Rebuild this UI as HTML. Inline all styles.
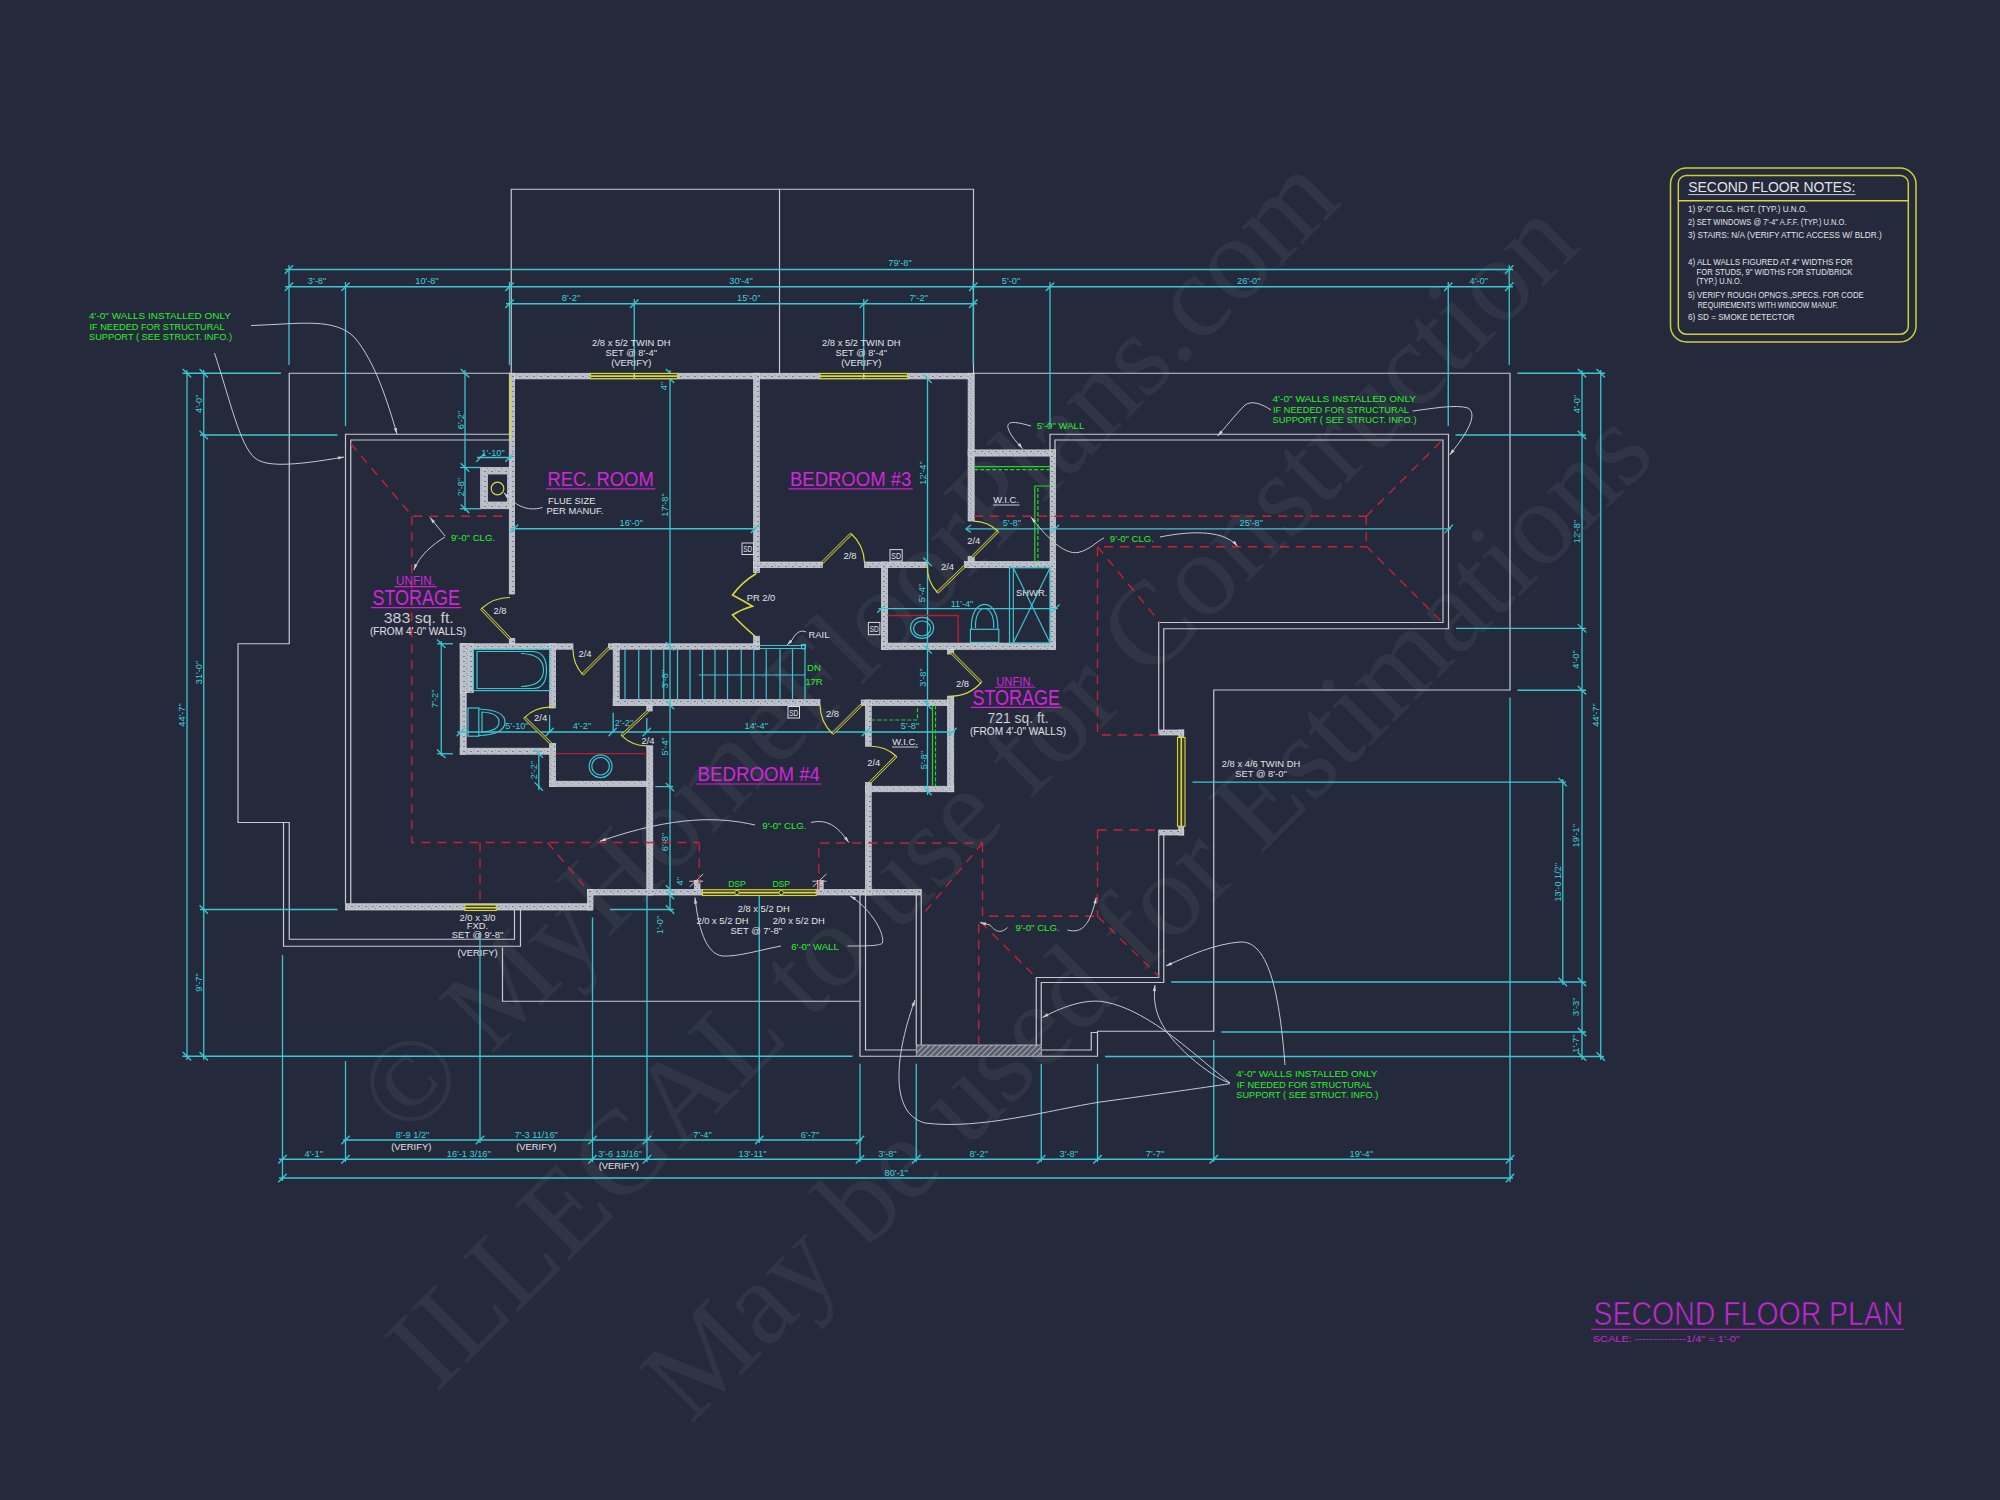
<!DOCTYPE html>
<html><head><meta charset="utf-8"><title>Second Floor Plan</title>
<style>
html,body{margin:0;padding:0;background:#24293b;}
svg{display:block;}
.w{stroke:#c6c9d1;stroke-width:1.2;fill:none;}
.wl{stroke:#c6c9d1;stroke-width:1;fill:none;}
.c{stroke:#3cc6d3;stroke-width:1.3;fill:none;}
.cf{stroke:#3cc6d3;stroke-width:1.2;fill:none;}
.r{stroke:#cc2233;stroke-width:1.3;fill:none;stroke-dasharray:9 7;}
.rs{stroke:#b81e30;stroke-width:1.4;fill:none;}
.y{stroke:#d6d640;stroke-width:1.6;fill:none;}
.yw{stroke:#d6d640;stroke-width:1.2;fill:#8c8c3a;}
.g{stroke:#2bd12b;stroke-width:1.2;fill:none;}
.gd{stroke:#2bd12b;stroke-width:1.2;fill:none;stroke-dasharray:4 2;}
.m{stroke:#cc22d4;stroke-width:1.15;fill:none;}
.wall{fill:url(#speck);stroke:#d4d6dc;stroke-width:0.7;}
.wallh{fill:url(#hatch);stroke:#c6c9d1;stroke-width:0.8;}
.sd{fill:none;stroke:#d8dae0;stroke-width:1;}
text{font-family:"Liberation Sans",sans-serif;}
.tw{fill:#e2e3e8;font-size:9.4px;}
.tc{fill:#3fd0dc;font-size:9.2px;}
.tg{fill:#2cf02c;font-size:9.6px;}
.tm{fill:#d424de;font-size:20px;}
.tmt{fill:#c628d6;}
.tmb{fill:#c628d6;stroke:#24293b;stroke-width:0.7;}
.wm{fill:#ffffff;fill-opacity:0.058;font-family:"Liberation Serif",serif;}
</style></head>
<body>
<svg width="2000" height="1500" viewBox="0 0 2000 1500">
<defs>
<pattern id="speck" width="7" height="5" patternUnits="userSpaceOnUse">
<rect width="7" height="5" fill="#bcc0c8"/><rect x="1" y="1" width="2" height="1" fill="#7a7e88"/><rect x="4" y="3" width="1" height="1" fill="#858994"/><rect x="5" y="0" width="1" height="1" fill="#9a9ea8"/>
</pattern>
<pattern id="hatch" width="4" height="4" patternUnits="userSpaceOnUse" patternTransform="rotate(45)">
<rect width="4" height="4" fill="#5a5e6a"/><line x1="0" y1="0" x2="0" y2="4" stroke="#c6c9d1" stroke-width="1.4"/>
</pattern>
</defs>
<rect x="0" y="0" width="2000" height="1500" fill="#24293b"/>
<g><text class="wm" x="0" y="0" font-size="119" transform="translate(405.9 1140.7) rotate(-45)">© MyHomeFloorPlans.com</text>
<text class="wm" x="0" y="0" font-size="119" transform="translate(435.95 1394.05) rotate(-45)">ILLEGAL to use for Construction</text>
<text class="wm" x="0" y="0" font-size="119" transform="translate(690.45 1425.55) rotate(-45)">May be used for Estimations</text></g>
<polyline class="w" points="511.25,373.25 511.25,189.25 973.5,189.25 973.5,373.25"/>
<line class="w" x1="779.5" y1="189.25" x2="779.5" y2="373.25"/>
<polyline class="w" points="510,373.25 289.25,373.25 289.25,643.75 238,643.75 238,822.5 289.25,822.5 289.25,939.25 514.5,939.25 514.5,910"/>
<polyline class="w" points="283.5,822.5 283.5,946.25 520.5,946.25 520.5,910"/>
<polyline class="w" points="509.25,434.25 345.5,434.25 345.5,903.75"/>
<polyline class="w" points="509.25,440 350.75,440 350.75,903.75"/>
<polyline class="w" points="502.5,947.5 502.5,1001.25 860,1001.25"/>
<polyline class="w" points="860,895 860,1056.25 916.25,1056.25"/>
<polyline class="w" points="865.5,895 865.5,1050 916.25,1050"/>
<line class="w" x1="916.25" y1="895" x2="916.25" y2="1045"/>
<line class="w" x1="921.25" y1="895" x2="921.25" y2="1045"/>
<polyline class="w" points="1036.25,1045 1036.25,977.5 1158.75,977.5 1158.75,835"/>
<polyline class="w" points="1041.25,1045 1041.25,982.5 1163.75,982.5 1163.75,835"/>
<polyline class="w" points="1041.25,1050 1091.25,1050 1091.25,1032.5 1097.5,1032.5"/>
<polyline class="w" points="1041.25,1056.25 1097.5,1056.25 1097.5,1031.25 1213.75,1031.25 1213.75,690 1510,690 1510,373.25 973.75,373.25"/>
<polyline class="w" points="1158.75,730 1158.75,622.5 1443,622.5 1443,440 1055,440 1055,450"/>
<polyline class="w" points="1163.75,730 1163.75,628.75 1448.5,628.75 1448.5,434.25 1050,434.25 1050,450"/>
<rect class="wall" x="509.5" y="373.25" width="464.25" height="5.65"/>
<rect class="wall" x="509.25" y="373.25" width="5.35" height="220.75"/>
<rect class="wall" x="509.25" y="638.4" width="5.55" height="10.85"/>
<rect class="wall" x="753.6" y="373.25" width="5.8" height="199.25"/>
<rect class="wall" x="753.6" y="636.2" width="5.8" height="13.05"/>
<rect class="wall" x="968.1" y="373.25" width="6.1" height="147.75"/>
<rect class="wall" x="968.1" y="556.5" width="6.1" height="11.2"/>
<rect class="wall" x="968.1" y="449.9" width="87.4" height="6.2"/>
<rect class="wall" x="1050.1" y="449.9" width="5.4" height="199.4"/>
<rect class="wall" x="753.6" y="562" width="68.9" height="5.6"/>
<rect class="wall" x="864.5" y="562" width="63" height="5.6"/>
<rect class="wall" x="964.3" y="561.6" width="91.2" height="6.1"/>
<rect class="wall" x="881.5" y="562" width="6.1" height="87.3"/>
<rect class="wall" x="881.5" y="643.1" width="174" height="6.2"/>
<rect class="wall" x="460.2" y="643.8" width="112.8" height="5.4"/>
<rect class="wall" x="608.4" y="643.8" width="151" height="5.4"/>
<rect class="wall" x="460.2" y="643.8" width="6" height="110.4"/>
<rect class="wall" x="460.2" y="643.8" width="13.2" height="48.6"/>
<rect class="wall" x="460.2" y="748.2" width="95.4" height="6"/>
<rect class="wall" x="549.6" y="643.8" width="6" height="64.2"/>
<rect class="wall" x="549.6" y="743.4" width="6" height="43.2"/>
<rect class="wall" x="549.6" y="781.2" width="103.2" height="5.4"/>
<rect class="wall" x="613.2" y="643.8" width="6" height="61.8"/>
<rect class="wall" x="613.2" y="699.6" width="206.8" height="6"/>
<rect class="wall" x="646.8" y="705.6" width="5.4" height="5.4"/>
<rect class="wall" x="646.8" y="745.8" width="6" height="149.2"/>
<rect class="wall" x="587.5" y="889.5" width="115" height="5.5"/>
<rect class="wall" x="816.25" y="889.5" width="105" height="5.5"/>
<rect class="wall" x="345.5" y="903.75" width="247" height="6.25"/>
<rect class="wall" x="587.5" y="889.5" width="5.5" height="20.5"/>
<rect class="wall" x="861.25" y="700" width="92.5" height="5.5"/>
<rect class="wall" x="865.5" y="700" width="5.75" height="46.25"/>
<rect class="wall" x="865.5" y="782.5" width="5.75" height="112.5"/>
<rect class="wall" x="947.6" y="696.2" width="6.15" height="95.55"/>
<rect class="wall" x="865.5" y="786.25" width="88.25" height="5.5"/>
<rect class="wall" x="947.6" y="649.3" width="6.15" height="4.7"/>
<rect class="wall" x="1158.75" y="730" width="25" height="5"/>
<rect class="wall" x="1178.75" y="730" width="5" height="105"/>
<rect class="wall" x="1158.75" y="830" width="25" height="5"/>
<rect class="wall" x="480.5" y="467.5" width="29.5" height="41.25"/>
<rect x="487.5" y="474" width="20" height="28" fill="#24293b" stroke="#c6c9d1" stroke-width="0.8"/>
<circle cx="497.5" cy="488.5" r="6.3" fill="none" stroke="#d6d640" stroke-width="1.2"/>
<rect class="wall" x="694.4" y="880.4" width="5.6" height="9.1"/>
<line class="wl" x1="689.2" y1="881.2" x2="703.2" y2="881.2"/>
<line class="wl" x1="689.7" y1="886.8" x2="703.2" y2="874"/>
<rect class="wall" x="817.6" y="880.4" width="5.6" height="9.1"/>
<line class="wl" x1="812.4" y1="881.2" x2="826.4" y2="881.2"/>
<line class="wl" x1="812.9" y1="886.8" x2="826.4" y2="874"/>
<rect class="wallh" x="916.25" y="1045" width="125" height="11.25"/>
<line class="c" x1="285" y1="269.5" x2="1513" y2="269.5"/>
<line class="c" x1="284.8" y1="273.7" x2="293.2" y2="265.3"/>
<line class="c" x1="1505.05" y1="273.7" x2="1513.45" y2="265.3"/>
<line class="c" x1="285" y1="286.75" x2="1513" y2="286.75"/>
<line class="c" x1="284.8" y1="290.95" x2="293.2" y2="282.55"/>
<line class="c" x1="341.3" y1="290.95" x2="349.7" y2="282.55"/>
<line class="c" x1="505.3" y1="290.95" x2="513.7" y2="282.55"/>
<line class="c" x1="969.05" y1="290.95" x2="977.45" y2="282.55"/>
<line class="c" x1="1045.8" y1="290.95" x2="1054.2" y2="282.55"/>
<line class="c" x1="1444.05" y1="290.95" x2="1452.45" y2="282.55"/>
<line class="c" x1="1505.05" y1="290.95" x2="1513.45" y2="282.55"/>
<line class="c" x1="506" y1="303.75" x2="977" y2="303.75"/>
<line class="c" x1="505.3" y1="307.95" x2="513.7" y2="299.55"/>
<line class="c" x1="630.05" y1="307.95" x2="638.45" y2="299.55"/>
<line class="c" x1="859.55" y1="307.95" x2="867.95" y2="299.55"/>
<line class="c" x1="969.05" y1="307.95" x2="977.45" y2="299.55"/>
<line class="c" x1="289" y1="265" x2="289" y2="365"/>
<line class="c" x1="345.5" y1="282" x2="345.5" y2="426"/>
<line class="c" x1="509.5" y1="282" x2="509.5" y2="365"/>
<line class="c" x1="634.25" y1="299" x2="634.25" y2="370"/>
<line class="c" x1="863.75" y1="299" x2="863.75" y2="370"/>
<line class="c" x1="973.25" y1="282" x2="973.25" y2="365"/>
<line class="c" x1="1050" y1="282" x2="1050" y2="427.5"/>
<line class="c" x1="1448.25" y1="282" x2="1448.25" y2="426"/>
<line class="c" x1="1509.25" y1="265" x2="1509.25" y2="365"/>
<line class="c" x1="187" y1="370" x2="187" y2="1060"/>
<line class="c" x1="182.8" y1="369.05" x2="191.2" y2="377.45"/>
<line class="c" x1="182.8" y1="1052.05" x2="191.2" y2="1060.45"/>
<line class="c" x1="203.75" y1="370" x2="203.75" y2="1060"/>
<line class="c" x1="199.55" y1="369.05" x2="207.95" y2="377.45"/>
<line class="c" x1="199.55" y1="430.8" x2="207.95" y2="439.2"/>
<line class="c" x1="199.55" y1="905.3" x2="207.95" y2="913.7"/>
<line class="c" x1="199.55" y1="1052.05" x2="207.95" y2="1060.45"/>
<line class="c" x1="182.5" y1="373.25" x2="281" y2="373.25"/>
<line class="c" x1="200" y1="435" x2="337.5" y2="435"/>
<line class="c" x1="200" y1="909.5" x2="337.5" y2="909.5"/>
<line class="c" x1="182.5" y1="1056.25" x2="852.5" y2="1056.25"/>
<line class="c" x1="1582" y1="370" x2="1582" y2="1060"/>
<line class="c" x1="1577.8" y1="369.05" x2="1586.2" y2="377.45"/>
<line class="c" x1="1577.8" y1="430.8" x2="1586.2" y2="439.2"/>
<line class="c" x1="1577.8" y1="624.1" x2="1586.2" y2="632.5"/>
<line class="c" x1="1577.8" y1="686.05" x2="1586.2" y2="694.45"/>
<line class="c" x1="1577.8" y1="977.8" x2="1586.2" y2="986.2"/>
<line class="c" x1="1577.8" y1="1027.8" x2="1586.2" y2="1036.2"/>
<line class="c" x1="1577.8" y1="1052.3" x2="1586.2" y2="1060.7"/>
<line class="c" x1="1600.75" y1="370" x2="1600.75" y2="1060"/>
<line class="c" x1="1596.55" y1="369.05" x2="1604.95" y2="377.45"/>
<line class="c" x1="1596.55" y1="1052.3" x2="1604.95" y2="1060.7"/>
<line class="c" x1="1562.8" y1="779" x2="1562.8" y2="985"/>
<line class="c" x1="1558.6" y1="778" x2="1567" y2="786.4"/>
<line class="c" x1="1558.6" y1="977.8" x2="1567" y2="986.2"/>
<line class="c" x1="1517.5" y1="373.25" x2="1605" y2="373.25"/>
<line class="c" x1="1455.5" y1="435" x2="1586" y2="435"/>
<line class="c" x1="1456" y1="628.3" x2="1586" y2="628.3"/>
<line class="c" x1="1517.5" y1="690.25" x2="1586" y2="690.25"/>
<line class="c" x1="1192.5" y1="782.2" x2="1566" y2="782.2"/>
<line class="c" x1="1171.25" y1="982" x2="1586" y2="982"/>
<line class="c" x1="1221.25" y1="1032" x2="1586" y2="1032"/>
<line class="c" x1="1105" y1="1056.5" x2="1604" y2="1056.5"/>
<line class="c" x1="343" y1="1140" x2="862" y2="1140"/>
<line class="c" x1="341.3" y1="1144.2" x2="349.7" y2="1135.8"/>
<line class="c" x1="475.8" y1="1144.2" x2="484.2" y2="1135.8"/>
<line class="c" x1="588.3" y1="1144.2" x2="596.7" y2="1135.8"/>
<line class="c" x1="642.8" y1="1144.2" x2="651.2" y2="1135.8"/>
<line class="c" x1="755.05" y1="1144.2" x2="763.45" y2="1135.8"/>
<line class="c" x1="855.8" y1="1144.2" x2="864.2" y2="1135.8"/>
<line class="c" x1="279" y1="1159.25" x2="1513" y2="1159.25"/>
<line class="c" x1="278.3" y1="1163.45" x2="286.7" y2="1155.05"/>
<line class="c" x1="341.3" y1="1163.45" x2="349.7" y2="1155.05"/>
<line class="c" x1="588.3" y1="1163.45" x2="596.7" y2="1155.05"/>
<line class="c" x1="642.8" y1="1163.45" x2="651.2" y2="1155.05"/>
<line class="c" x1="855.8" y1="1163.45" x2="864.2" y2="1155.05"/>
<line class="c" x1="912.05" y1="1163.45" x2="920.45" y2="1155.05"/>
<line class="c" x1="1037.05" y1="1163.45" x2="1045.45" y2="1155.05"/>
<line class="c" x1="1093.3" y1="1163.45" x2="1101.7" y2="1155.05"/>
<line class="c" x1="1209.55" y1="1163.45" x2="1217.95" y2="1155.05"/>
<line class="c" x1="1505.8" y1="1163.45" x2="1514.2" y2="1155.05"/>
<line class="c" x1="279" y1="1178" x2="1513" y2="1178"/>
<line class="c" x1="278.3" y1="1182.2" x2="286.7" y2="1173.8"/>
<line class="c" x1="1505.8" y1="1182.2" x2="1514.2" y2="1173.8"/>
<line class="c" x1="282.5" y1="955" x2="282.5" y2="1181"/>
<line class="c" x1="345.5" y1="1061.25" x2="345.5" y2="1162"/>
<line class="c" x1="480" y1="932.5" x2="480" y2="1143"/>
<line class="c" x1="592.5" y1="917.5" x2="592.5" y2="1162"/>
<line class="c" x1="647" y1="895" x2="647" y2="1162"/>
<line class="c" x1="759.25" y1="895" x2="759.25" y2="1143"/>
<line class="c" x1="860" y1="1063.75" x2="860" y2="1162"/>
<line class="c" x1="916.25" y1="1063.75" x2="916.25" y2="1162"/>
<line class="c" x1="1041.25" y1="1063.75" x2="1041.25" y2="1162"/>
<line class="c" x1="1097.5" y1="1063.75" x2="1097.5" y2="1162"/>
<line class="c" x1="1213.75" y1="1040" x2="1213.75" y2="1162"/>
<line class="c" x1="1510" y1="697.5" x2="1510" y2="1182"/>
<line class="c" x1="465" y1="370" x2="465" y2="511"/>
<line class="c" x1="460.8" y1="369.05" x2="469.2" y2="377.45"/>
<line class="c" x1="460.8" y1="463.3" x2="469.2" y2="471.7"/>
<line class="c" x1="460.8" y1="504.55" x2="469.2" y2="512.95"/>
<line class="c" x1="460" y1="467.5" x2="481" y2="467.5"/>
<line class="c" x1="460" y1="508.75" x2="481" y2="508.75"/>
<line class="c" x1="477" y1="457.5" x2="512" y2="457.5"/>
<line class="c" x1="476.3" y1="461.7" x2="484.7" y2="453.3"/>
<line class="c" x1="505.3" y1="461.7" x2="513.7" y2="453.3"/>
<line class="c" x1="670" y1="370" x2="670" y2="911.25"/>
<line class="c" x1="665.8" y1="369.05" x2="674.2" y2="377.45"/>
<line class="c" x1="665.8" y1="374.55" x2="674.2" y2="382.95"/>
<line class="c" x1="665.8" y1="642.05" x2="674.2" y2="650.45"/>
<line class="c" x1="665.8" y1="700.8" x2="674.2" y2="709.2"/>
<line class="c" x1="665.8" y1="783" x2="674.2" y2="791.4"/>
<line class="c" x1="665.8" y1="885.3" x2="674.2" y2="893.7"/>
<line class="c" x1="665.8" y1="890.8" x2="674.2" y2="899.2"/>
<line class="c" x1="665.8" y1="905.3" x2="674.2" y2="913.7"/>
<line class="c" x1="610" y1="909.5" x2="673.75" y2="909.5"/>
<line class="c" x1="510" y1="528.75" x2="756" y2="528.75"/>
<line class="c" x1="509.8" y1="532.95" x2="518.2" y2="524.55"/>
<line class="c" x1="750.8" y1="532.95" x2="759.2" y2="524.55"/>
<line class="c" x1="965.8" y1="528.9" x2="1451" y2="528.9"/>
<line class="c" x1="1050.8" y1="533.1" x2="1059.2" y2="524.7"/>
<line class="c" x1="1444.55" y1="533.1" x2="1452.95" y2="524.7"/>
<line class="c" x1="965.8" y1="528.9" x2="971" y2="525"/>
<line class="c" x1="965.8" y1="528.9" x2="971" y2="532.5"/>
<line class="c" x1="927.5" y1="377.5" x2="927.5" y2="795"/>
<line class="c" x1="923.3" y1="374.55" x2="931.7" y2="382.95"/>
<line class="c" x1="923.3" y1="557.8" x2="931.7" y2="566.2"/>
<line class="c" x1="923.3" y1="645.1" x2="931.7" y2="653.5"/>
<line class="c" x1="923.3" y1="700.8" x2="931.7" y2="709.2"/>
<line class="c" x1="923.3" y1="786.8" x2="931.7" y2="795.2"/>
<line class="c" x1="878.4" y1="608.6" x2="1057.8" y2="608.6"/>
<line class="c" x1="877.3" y1="612.8" x2="885.7" y2="604.4"/>
<line class="c" x1="1051.3" y1="612.8" x2="1059.7" y2="604.4"/>
<line class="c" x1="441.25" y1="641" x2="441.25" y2="756"/>
<line class="c" x1="437.05" y1="639.55" x2="445.45" y2="647.95"/>
<line class="c" x1="437.05" y1="749.55" x2="445.45" y2="757.95"/>
<line class="c" x1="437" y1="643.75" x2="453" y2="643.75"/>
<line class="c" x1="437" y1="753.75" x2="453" y2="753.75"/>
<line class="c" x1="457.2" y1="732" x2="955" y2="732"/>
<line class="c" x1="456.6" y1="736.2" x2="465" y2="727.8"/>
<line class="c" x1="545.4" y1="736.2" x2="553.8" y2="727.8"/>
<line class="c" x1="608.4" y1="736.2" x2="616.8" y2="727.8"/>
<line class="c" x1="642.6" y1="736.2" x2="651" y2="727.8"/>
<line class="c" x1="861.8" y1="736.2" x2="870.2" y2="727.8"/>
<line class="c" x1="948.3" y1="736.2" x2="956.7" y2="727.8"/>
<line class="c" x1="549.6" y1="715" x2="549.6" y2="732"/>
<line class="c" x1="613.2" y1="712.8" x2="613.2" y2="732"/>
<line class="c" x1="646.8" y1="718" x2="646.8" y2="732"/>
<line class="c" x1="538.8" y1="750" x2="538.8" y2="790"/>
<line class="c" x1="534.6" y1="749.4" x2="543" y2="757.8"/>
<line class="c" x1="534.6" y1="782.4" x2="543" y2="790.8"/>
<line class="c" x1="655.2" y1="786.6" x2="673.2" y2="786.6"/>
<polyline class="r" points="350.75,443.75 412.5,516.25 509.25,516.25"/>
<polyline class="r" points="411.75,516.25 411.75,842.5 698.75,842.5"/>
<polyline class="r" points="480,842.5 480,903.75"/>
<polyline class="r" points="547.5,842.5 587.5,890"/>
<polyline class="r" points="699.25,842.5 699.25,889.5"/>
<polyline class="r" points="818.75,889.5 818.75,843 982.5,843"/>
<polyline class="r" points="982.5,843 921.25,916.25"/>
<polyline class="r" points="982.5,843 982.5,916.25 1097.5,916.25"/>
<polyline class="r" points="978.75,1045 978.75,920 1036.25,977.5"/>
<polyline class="r" points="1097.5,830 1097.5,916.25"/>
<polyline class="r" points="1097.5,830 1158.75,830"/>
<polyline class="r" points="1097.5,916.25 1158.75,976.25"/>
<polyline class="r" points="1158.75,735 1097.5,735 1097.5,546.75 1366.25,546.75"/>
<polyline class="r" points="1097.5,546.75 1160,622.5"/>
<polyline class="r" points="974.2,516.25 1366.25,516.25"/>
<polyline class="r" points="1366.25,516.25 1366.25,546.25"/>
<polyline class="r" points="1366.25,516.25 1442.5,440"/>
<polyline class="r" points="1366.25,546.25 1442.5,622.5"/>
<polyline class="rs" points="887.6,615.5 958.1,615.5 958.1,643.1"/>
<line class="rs" x1="555.6" y1="753.6" x2="646.8" y2="753.6"/>
<rect x="590.5" y="373.5" width="87" height="5.2" fill="#3a3a2a" stroke="#d6d640" stroke-width="1.1"/>
<line class="y" x1="590.5" y1="376.1" x2="677.5" y2="376.1"/>
<line class="y" x1="634.25" y1="373.5" x2="634.25" y2="378.7"/>
<rect x="820" y="373.5" width="87.5" height="5.2" fill="#3a3a2a" stroke="#d6d640" stroke-width="1.1"/>
<line class="y" x1="820" y1="376.1" x2="907.5" y2="376.1"/>
<line class="y" x1="863.75" y1="373.5" x2="863.75" y2="378.7"/>
<rect x="465" y="905" width="31.25" height="5.5" fill="#3a3a2a" stroke="#d6d640" stroke-width="1.1"/>
<line class="y" x1="465" y1="907.75" x2="496.25" y2="907.75"/>
<rect x="702.5" y="889.7" width="113.75" height="5.8" fill="#3a3a2a" stroke="#d6d640" stroke-width="1.1"/>
<line class="y" x1="702.5" y1="892.6" x2="816.25" y2="892.6"/>
<circle cx="737" cy="892.6" r="2.2" fill="#24293b" stroke="#d6d640" stroke-width="1"/>
<circle cx="781.25" cy="892.6" r="2.2" fill="#24293b" stroke="#d6d640" stroke-width="1"/>
<rect x="1177.5" y="737.5" width="7.5" height="88.75" fill="#3a3a2a" stroke="#d6d640" stroke-width="1.1"/>
<line class="y" x1="1181.25" y1="737.5" x2="1181.25" y2="826.25"/>
<line class="y" x1="509.8" y1="376" x2="509.8" y2="440"/>
<polygon points="510.79,637.99 482.04,607.99 480.46,609.51 509.21,639.51" fill="#4c4c22" stroke="#d4d858" stroke-width="0.9"/>
<path class="y" style="stroke-width:1.2" d="M481.25,608.75 A41.55,41.55 0 0 1 510,597.5"/>
<polygon points="823.28,563.28 852.03,534.53 850.47,532.97 821.72,561.72" fill="#4c4c22" stroke="#d4d858" stroke-width="0.9"/>
<path class="y" style="stroke-width:1.2" d="M851.25,533.75 A40.66,40.66 0 0 1 864.5,562.5"/>
<polygon points="963.54,565.71 936.64,591.71 938.16,593.29 965.06,567.29" fill="#4c4c22" stroke="#d4d858" stroke-width="0.9"/>
<path class="y" style="stroke-width:1.2" d="M937.4,592.5 A37.41,37.41 0 0 1 927.5,565"/>
<polygon points="972.78,558.08 998.78,531.98 997.22,530.42 971.22,556.52" fill="#4c4c22" stroke="#d4d858" stroke-width="0.9"/>
<path class="y" style="stroke-width:1.2" d="M998,531.2 A36.84,36.84 0 0 0 973.5,521.2"/>
<polygon points="950.47,653.28 980.47,683.28 982.03,681.72 952.03,651.72" fill="#4c4c22" stroke="#d4d858" stroke-width="0.9"/>
<path class="y" style="stroke-width:1.2" d="M981.25,682.5 A42.43,42.43 0 0 1 948.75,696.25"/>
<polygon points="860.47,704.22 831.72,732.97 833.28,734.53 862.03,705.78" fill="#4c4c22" stroke="#d4d858" stroke-width="0.9"/>
<path class="y" style="stroke-width:1.2" d="M832.5,733.75 A40.66,40.66 0 0 1 820,705"/>
<polygon points="870.78,783.28 897.03,757.03 895.47,755.47 869.22,781.72" fill="#4c4c22" stroke="#d4d858" stroke-width="0.9"/>
<path class="y" style="stroke-width:1.2" d="M896.25,756.25 A37.12,37.12 0 0 0 871.25,746.25"/>
<polygon points="608.22,647.22 581.82,673.62 583.38,675.18 609.78,648.78" fill="#4c4c22" stroke="#d4d858" stroke-width="0.9"/>
<path class="y" style="stroke-width:1.2" d="M582.6,674.4 A37.34,37.34 0 0 1 573,649.2"/>
<polygon points="551.57,742.61 525.17,716.81 523.63,718.39 550.03,744.19" fill="#4c4c22" stroke="#d4d858" stroke-width="0.9"/>
<path class="y" style="stroke-width:1.2" d="M524.4,717.6 A36.91,36.91 0 0 1 554.4,707.4"/>
<polygon points="647.25,710.2 620.85,734.8 622.35,736.4 648.75,711.8" fill="#4c4c22" stroke="#d4d858" stroke-width="0.9"/>
<path class="y" style="stroke-width:1.2" d="M621.6,735.6 A36.08,36.08 0 0 0 647.4,745.8"/>
<path class="y" d="M756.25,573.5 Q742,582 732.5,595 Q742,600 752.5,606.25 Q742,609 732.5,615 Q742,625 755,636.25"/>
<rect class="cf" x="473.4" y="649.2" width="76.2" height="41.4"/>
<path class="cf" d="M477,651.5 L533,651.5 Q546.5,652 546.5,670 Q546.5,688.5 533,688.5 L477,688.5 Z"/>
<path class="cf" d="M521,653.5 Q543.5,654 543.5,670 Q543.5,686 521,686.5"/>
<rect class="cf" x="468" y="708" width="10.8" height="28.2"/>
<path class="cf" d="M478.8,709 Q505,710 505,722 Q505,734.5 478.8,735.5"/>
<path class="cf" d="M482,712 Q499,713 499,722 Q499,731 482,732 Z"/>
<circle class="cf" cx="600.6" cy="766.2" r="11.4"/>
<circle class="cf" cx="600.6" cy="766.2" r="8.8"/>
<ellipse class="cf" cx="922.1" cy="627.8" rx="11.5" ry="10.5"/>
<ellipse class="cf" cx="922.1" cy="628.5" rx="8.5" ry="7.5"/>
<rect class="cf" x="970.4" y="629.3" width="28.4" height="13.1"/>
<path class="cf" d="M971.5,629.3 C970.5,614 977,604.3 984.6,604.3 C992.2,604.3 998.7,614 997.7,629.3"/>
<path class="cf" d="M975.5,628 C975,616 979,608.5 984.6,608.5 C990.2,608.5 994.2,616 993.7,628"/>
<rect class="cf" x="1009.5" y="567.7" width="40.6" height="75.4"/>
<line class="cf" x1="1013.3" y1="567.7" x2="1013.3" y2="643.1"/>
<line class="cf" x1="1013.3" y1="567.7" x2="1050.1" y2="643.1"/>
<line class="cf" x1="1050.1" y1="567.7" x2="1013.3" y2="643.1"/>
<line class="cf" x1="625" y1="649.2" x2="625" y2="699.6"/>
<line class="cf" x1="638.75" y1="649.2" x2="638.75" y2="699.6"/>
<line class="cf" x1="651.25" y1="649.2" x2="651.25" y2="699.6"/>
<line class="cf" x1="663.75" y1="649.2" x2="663.75" y2="699.6"/>
<line class="cf" x1="677.5" y1="649.2" x2="677.5" y2="699.6"/>
<line class="cf" x1="690" y1="649.2" x2="690" y2="699.6"/>
<line class="cf" x1="702.5" y1="649.2" x2="702.5" y2="699.6"/>
<line class="cf" x1="715" y1="649.2" x2="715" y2="699.6"/>
<line class="cf" x1="727.5" y1="649.2" x2="727.5" y2="699.6"/>
<line class="cf" x1="741.25" y1="649.2" x2="741.25" y2="699.6"/>
<line class="cf" x1="753.75" y1="649.2" x2="753.75" y2="699.6"/>
<line class="cf" x1="766.25" y1="649.2" x2="766.25" y2="699.6"/>
<line class="cf" x1="780" y1="649.2" x2="780" y2="699.6"/>
<line class="cf" x1="792.5" y1="649.2" x2="792.5" y2="699.6"/>
<line class="cf" x1="805" y1="646" x2="805" y2="699.6"/>
<line class="cf" x1="698.75" y1="675" x2="805" y2="675"/>
<line class="cf" x1="759.4" y1="645.5" x2="805" y2="645.5"/>
<line class="cf" x1="759.4" y1="648.5" x2="805" y2="648.5"/>
<rect class="cf" x="801.5" y="644.5" width="4" height="4.3"/>
<line class="g" x1="974.2" y1="466.6" x2="1050.1" y2="466.6"/>
<line class="gd" x1="974.2" y1="469.6" x2="1050.1" y2="469.6"/>
<polyline class="g" points="1050.1,486 1034.8,486 1034.8,561.6"/>
<line class="gd" x1="1037.9" y1="488" x2="1037.9" y2="561.6"/>
<polyline class="gd" points="871.25,720 917.5,720 917.5,705.5"/>
<line class="g" x1="932.5" y1="705.5" x2="932.5" y2="786.25"/>
<line class="gd" x1="935.5" y1="705.5" x2="935.5" y2="786.25"/>
<rect class="sd" x="742" y="543" width="11.5" height="11.5"/>
<text class="tw" x="747.75" y="552.05" text-anchor="middle" style="font-size:8.4px" textLength="9" lengthAdjust="spacingAndGlyphs">SD</text>
<rect class="sd" x="890" y="549.6" width="12.2" height="11.5"/>
<text class="tw" x="896.1" y="558.65" text-anchor="middle" style="font-size:8.4px" textLength="9.7" lengthAdjust="spacingAndGlyphs">SD</text>
<rect class="sd" x="868.4" y="622.4" width="11.5" height="12.3"/>
<text class="tw" x="874.15" y="631.85" text-anchor="middle" style="font-size:8.4px" textLength="9" lengthAdjust="spacingAndGlyphs">SD</text>
<rect class="sd" x="788" y="706.5" width="11.5" height="11.5"/>
<text class="tw" x="793.75" y="715.55" text-anchor="middle" style="font-size:8.4px" textLength="9" lengthAdjust="spacingAndGlyphs">SD</text>
<path class="wl" d="M251,325.5 C300,324 335,317 355,338 C375,362 387,400 397,434"/>
<path d="M397,434 L393.77,428.7 L396.84,427.79 Z" fill="#d0d2d8"/>
<path class="wl" d="M214.5,353 C230,400 240,446 255,458 C266,467 292,466 344,457"/>
<path d="M344,457 L338.36,459.6 L337.82,456.45 Z" fill="#d0d2d8"/>
<path class="wl" d="M445,536 L430,517.5"/>
<path d="M430,517.5 L435.02,521.15 L432.54,523.17 Z" fill="#d0d2d8"/>
<path class="wl" d="M445,537 C432,545 420,555 413.75,570"/>
<path d="M413.75,570 L414.58,563.85 L417.53,565.08 Z" fill="#d0d2d8"/>
<path class="wl" d="M542.5,507.5 C526,512 515,505 503.75,492.5"/>
<path d="M503.75,492.5 L508.95,495.89 L506.57,498.03 Z" fill="#d0d2d8"/>
<path class="wl" d="M1031,426 C1020,423 1006,419 1008,428 C1011,437 1018,443 1022.5,448.75"/>
<path d="M1022.5,448.75 L1017.54,445.01 L1020.06,443.04 Z" fill="#d0d2d8"/>
<path class="wl" d="M1271,410 C1262,404 1252,400 1245,405 C1235,415 1225,428 1217.5,436"/>
<path d="M1217.5,436 L1220.44,430.53 L1222.77,432.72 Z" fill="#d0d2d8"/>
<path class="wl" d="M1412.5,411 C1430,409 1455,404 1468,408 C1480,415 1462,440 1449.5,455"/>
<path d="M1449.5,455 L1452.11,449.37 L1454.57,451.41 Z" fill="#d0d2d8"/>
<path class="wl" d="M1160,537 C1185,532 1222,528 1237.5,546.25"/>
<path d="M1237.5,546.25 L1232.4,542.71 L1234.84,540.64 Z" fill="#d0d2d8"/>
<path class="wl" d="M1104,538 C1097,541 1090,550 1078,552.5 C1063,555 1045,535 1031,517"/>
<path d="M1031,517 L1035.95,520.75 L1033.42,522.72 Z" fill="#d0d2d8"/>
<path class="wl" d="M806,632 C800,629 795,634 792,640 L787,645"/>
<path d="M787,645 L790.11,639.63 L792.37,641.89 Z" fill="#d0d2d8"/>
<path class="wl" d="M755,825 C720,817 676,815 600,841.25"/>
<path d="M600,841.25 L605.15,837.78 L606.19,840.8 Z" fill="#d0d2d8"/>
<path class="wl" d="M811,822.5 C830,818 840,830 848.75,842.5"/>
<path d="M848.75,842.5 L844,838.5 L846.62,836.67 Z" fill="#d0d2d8"/>
<path class="wl" d="M781,946 C760,950 737,957 722.5,956 C705,954 698,925 695,897.5"/>
<path d="M695,897.5 L697.24,903.29 L694.06,903.64 Z" fill="#d0d2d8"/>
<path class="wl" d="M847.5,946 C865,946 880,946 882.5,943 C885,930 866,905 850,896"/>
<path d="M850,896 L856.01,897.55 L854.45,900.34 Z" fill="#d0d2d8"/>
<path class="wl" d="M1007.5,927.5 C1000,935 994,930 990,925 L980,922.5"/>
<path d="M980,922.5 L986.21,922.4 L985.43,925.51 Z" fill="#d0d2d8"/>
<path class="wl" d="M1067.5,930 C1082,934 1090,925 1096.25,897.5"/>
<path d="M1096.25,897.5 L1096.48,903.71 L1093.36,903 Z" fill="#d0d2d8"/>
<path class="wl" d="M1230,1083.75 C1200,1088 1160,1094 1100,1102 C1050,1110 980,1130 925,1123 C884,1112 900,1040 915,1000"/>
<path d="M915,1000 L914.39,1006.18 L911.4,1005.06 Z" fill="#d0d2d8"/>
<path class="wl" d="M1230,1083 C1200,1060 1150,1010 1105,1002 C1085,998 1060,1008 1042.5,1017.5"/>
<path d="M1042.5,1017.5 L1047.01,1013.23 L1048.54,1016.04 Z" fill="#d0d2d8"/>
<path class="wl" d="M1285,1065 C1280,1000 1270,940 1240,942 C1215,944 1190,955 1166,966"/>
<path d="M1166,966 L1170.79,962.05 L1172.12,964.95 Z" fill="#d0d2d8"/>
<path class="wl" d="M1230,1083 C1220,1080 1205,1070 1190,1057 C1160,1030 1152,1010 1155,985"/>
<path d="M1155,985 L1155.87,991.15 L1152.7,990.77 Z" fill="#d0d2d8"/>
<text class="tc" x="900" y="266" text-anchor="middle">79'-8"</text>
<text class="tc" x="317" y="283.8" text-anchor="middle">3'-8"</text>
<text class="tc" x="427" y="283.8" text-anchor="middle">10'-8"</text>
<text class="tc" x="741" y="283.8" text-anchor="middle">30'-4"</text>
<text class="tc" x="1011" y="283.8" text-anchor="middle">5'-0"</text>
<text class="tc" x="1248.75" y="283.8" text-anchor="middle">26'-0"</text>
<text class="tc" x="1478.75" y="283.8" text-anchor="middle">4'-0"</text>
<text class="tc" x="571" y="300.8" text-anchor="middle">8'-2"</text>
<text class="tc" x="748.75" y="300.8" text-anchor="middle">15'-0"</text>
<text class="tc" x="918.75" y="300.8" text-anchor="middle">7'-2"</text>
<text class="tc" x="412.5" y="1137.5" text-anchor="middle">8'-9 1/2"</text>
<text class="tc" x="536.25" y="1137.5" text-anchor="middle">7'-3 11/16"</text>
<text class="tc" x="702.5" y="1137.5" text-anchor="middle">7'-4"</text>
<text class="tc" x="810" y="1137.5" text-anchor="middle">6'-7"</text>
<text class="tw" x="411.25" y="1150" text-anchor="middle">(VERIFY)</text>
<text class="tw" x="536.25" y="1150" text-anchor="middle">(VERIFY)</text>
<text class="tw" x="618.75" y="1169" text-anchor="middle">(VERIFY)</text>
<text class="tc" x="313.75" y="1156.5" text-anchor="middle">4'-1"</text>
<text class="tc" x="468.75" y="1156.5" text-anchor="middle">16'-1 3/16"</text>
<text class="tc" x="620" y="1156.5" text-anchor="middle">3'-6 13/16"</text>
<text class="tc" x="752.5" y="1156.5" text-anchor="middle">13'-11"</text>
<text class="tc" x="887.5" y="1156.5" text-anchor="middle">3'-8"</text>
<text class="tc" x="978.75" y="1156.5" text-anchor="middle">8'-2"</text>
<text class="tc" x="1068.75" y="1156.5" text-anchor="middle">3'-8"</text>
<text class="tc" x="1155" y="1156.5" text-anchor="middle">7'-7"</text>
<text class="tc" x="1361.25" y="1156.5" text-anchor="middle">19'-4"</text>
<text class="tc" x="896.25" y="1175.5" text-anchor="middle">80'-1"</text>
<text class="tc" x="0" y="0" text-anchor="middle" transform="translate(202.15 403.75) rotate(-90)">4'-0"</text>
<text class="tc" x="0" y="0" text-anchor="middle" transform="translate(202.15 672.5) rotate(-90)">31'-0"</text>
<text class="tc" x="0" y="0" text-anchor="middle" transform="translate(202.15 982.5) rotate(-90)">9'-7"</text>
<text class="tc" x="0" y="0" text-anchor="middle" transform="translate(184.65 715) rotate(-90)">44'-7"</text>
<text class="tc" x="0" y="0" text-anchor="middle" transform="translate(1579.65 404) rotate(-90)">4'-0"</text>
<text class="tc" x="0" y="0" text-anchor="middle" transform="translate(1579.65 531.5) rotate(-90)">12'-8"</text>
<text class="tc" x="0" y="0" text-anchor="middle" transform="translate(1579.4 659.5) rotate(-90)">4'-0"</text>
<text class="tc" x="0" y="0" text-anchor="middle" transform="translate(1579.4 835.75) rotate(-90)">19'-1"</text>
<text class="tc" x="0" y="0" text-anchor="middle" transform="translate(1579.4 1006.75) rotate(-90)">3'-3"</text>
<text class="tc" x="0" y="0" text-anchor="middle" transform="translate(1579.4 1043.5) rotate(-90)">1'-7"</text>
<text class="tc" x="0" y="0" text-anchor="middle" transform="translate(1561.4 882.25) rotate(-90)">13'-0 1/2"</text>
<text class="tc" x="0" y="0" text-anchor="middle" transform="translate(1598.9 715) rotate(-90)">44'-7"</text>
<text class="tc" x="0" y="0" text-anchor="middle" transform="translate(464.4 420) rotate(-90)">6'-2"</text>
<text class="tc" x="0" y="0" text-anchor="middle" transform="translate(464.4 487) rotate(-90)">2'-8"</text>
<text class="tc" x="0" y="0" text-anchor="middle" transform="translate(667.4 386) rotate(-90)">4"</text>
<text class="tc" x="0" y="0" text-anchor="middle" transform="translate(668.4 505) rotate(-90)">17'-8"</text>
<text class="tc" x="0" y="0" text-anchor="middle" transform="translate(668.4 679) rotate(-90)">3'-8"</text>
<text class="tc" x="0" y="0" text-anchor="middle" transform="translate(668.4 746.4) rotate(-90)">5'-4"</text>
<text class="tc" x="0" y="0" text-anchor="middle" transform="translate(668.4 842) rotate(-90)">6'-8"</text>
<text class="tc" x="0" y="0" text-anchor="middle" transform="translate(663.4 925) rotate(-90)">1'-0"</text>
<text class="tc" x="0" y="0" text-anchor="middle" transform="translate(682.9 881.25) rotate(-90)">4"</text>
<text class="tc" x="0" y="0" text-anchor="middle" transform="translate(926.4 473) rotate(-90)">12'-4"</text>
<text class="tc" x="0" y="0" text-anchor="middle" transform="translate(925.4 593) rotate(-90)">5'-4"</text>
<text class="tc" x="0" y="0" text-anchor="middle" transform="translate(925.9 677.5) rotate(-90)">3'-8"</text>
<text class="tc" x="0" y="0" text-anchor="middle" transform="translate(927.15 760) rotate(-90)">5'-8"</text>
<text class="tc" x="0" y="0" text-anchor="middle" transform="translate(438.4 698.75) rotate(-90)">7'-2"</text>
<text class="tc" x="0" y="0" text-anchor="middle" transform="translate(537.4 770) rotate(-90)">2'-2"</text>
<text class="tc" x="493" y="455.5" text-anchor="middle">1'-10"</text>
<text class="tc" x="631.25" y="525.5" text-anchor="middle">16'-0"</text>
<text class="tc" x="1011.8" y="525.8" text-anchor="middle">5'-8"</text>
<text class="tc" x="1251.25" y="525.8" text-anchor="middle">25'-8"</text>
<text class="tc" x="962" y="606.5" text-anchor="middle">11'-4"</text>
<text class="tc" x="517" y="729.3" text-anchor="middle">5'-10"</text>
<text class="tc" x="582" y="729.3" text-anchor="middle">4'-2"</text>
<text class="tc" x="624" y="726" text-anchor="middle">2'-2"</text>
<text class="tc" x="756.25" y="729.3" text-anchor="middle">14'-4"</text>
<text class="tc" x="910" y="729.3" text-anchor="middle">5'-8"</text>
<text class="tw" x="631.25" y="345.5" text-anchor="middle">2/8 x 5/2 TWIN DH</text>
<text class="tw" x="631.25" y="355.5" text-anchor="middle">SET @ 8'-4"</text>
<text class="tw" x="631.25" y="365.5" text-anchor="middle">(VERIFY)</text>
<text class="tw" x="861.25" y="345.5" text-anchor="middle">2/8 x 5/2 TWIN DH</text>
<text class="tw" x="861.25" y="355.5" text-anchor="middle">SET @ 8'-4"</text>
<text class="tw" x="861.25" y="365.5" text-anchor="middle">(VERIFY)</text>
<text class="tw" x="548" y="503.5">FLUE SIZE</text>
<text class="tw" x="546.5" y="513.5">PER MANUF.</text>
<text class="tw" x="477.5" y="920.5" text-anchor="middle">2/0 x 3/0</text>
<text class="tw" x="477.5" y="929" text-anchor="middle">FXD.</text>
<text class="tw" x="477.5" y="938" text-anchor="middle">SET @ 9'-8"</text>
<text class="tw" x="477.5" y="955.5" text-anchor="middle">(VERIFY)</text>
<text class="tw" x="763.75" y="912" text-anchor="middle">2/8 x 5/2 DH</text>
<text class="tw" x="722.5" y="923.5" text-anchor="middle">2/0 x 5/2 DH</text>
<text class="tw" x="798.75" y="923.5" text-anchor="middle">2/0 x 5/2 DH</text>
<text class="tw" x="756.25" y="933.5" text-anchor="middle">SET @ 7'-8"</text>
<text class="tw" x="1261" y="767" text-anchor="middle">2/8 x 4/6 TWIN DH</text>
<text class="tw" x="1261" y="777" text-anchor="middle">SET @ 8'-0"</text>
<text class="tw" x="500" y="614" text-anchor="middle">2/8</text>
<text class="tw" x="850" y="559" text-anchor="middle">2/8</text>
<text class="tw" x="947.5" y="569.5" text-anchor="middle">2/4</text>
<text class="tw" x="973.75" y="543.5" text-anchor="middle">2/4</text>
<text class="tw" x="761" y="600.5" text-anchor="middle">PR 2/0</text>
<text class="tw" x="585" y="657" text-anchor="middle">2/4</text>
<text class="tw" x="540.6" y="721" text-anchor="middle">2/4</text>
<text class="tw" x="648" y="744" text-anchor="middle">2/4</text>
<text class="tw" x="832.5" y="717" text-anchor="middle">2/8</text>
<text class="tw" x="962.5" y="687" text-anchor="middle">2/8</text>
<text class="tw" x="873.75" y="766" text-anchor="middle">2/4</text>
<text class="tw" x="819" y="638" text-anchor="middle">RAIL</text>
<text class="tw" x="1031.7" y="596" text-anchor="middle">SHWR.</text>
<text class="tw" x="1006" y="502.5" text-anchor="middle">W.I.C.</text>
<line class="wl" x1="993" y1="505" x2="1019.5" y2="505"/>
<text class="tw" x="905" y="744.5" text-anchor="middle">W.I.C.</text>
<line class="wl" x1="892" y1="747" x2="918" y2="747"/>
<text class="tg" x="814" y="671" text-anchor="middle">DN</text>
<text class="tg" x="814" y="684.5" text-anchor="middle">17R</text>
<text class="tg" x="473" y="541" text-anchor="middle">9'-0" CLG.</text>
<text class="tg" x="1131.9" y="541.5" text-anchor="middle">9'-0" CLG.</text>
<text class="tg" x="784.4" y="828.5" text-anchor="middle">9'-0" CLG.</text>
<text class="tg" x="1037.5" y="931" text-anchor="middle">9'-0" CLG.</text>
<text class="tg" x="1060.5" y="428.5" text-anchor="middle">5'-0" WALL</text>
<text class="tg" x="815" y="949.5" text-anchor="middle">6'-0" WALL</text>
<text class="tg" x="737" y="886.8" text-anchor="middle" style="font-size:8.6px">DSP</text>
<text class="tg" x="781.25" y="886.8" text-anchor="middle" style="font-size:8.6px">DSP</text>
<text class="tg" x="89" y="319.2" textLength="142" lengthAdjust="spacingAndGlyphs">4'-0" WALLS INSTALLED ONLY</text>
<text class="tg" x="89.5" y="329.7" textLength="135" lengthAdjust="spacingAndGlyphs">IF NEEDED FOR STRUCTURAL</text>
<text class="tg" x="89" y="340.2" textLength="143" lengthAdjust="spacingAndGlyphs">SUPPORT ( SEE STRUCT. INFO.)</text>
<text class="tg" x="1272.5" y="402" textLength="143.5" lengthAdjust="spacingAndGlyphs">4'-0" WALLS INSTALLED ONLY</text>
<text class="tg" x="1273" y="412.5" textLength="136" lengthAdjust="spacingAndGlyphs">IF NEEDED FOR STRUCTURAL</text>
<text class="tg" x="1272.5" y="423" textLength="144" lengthAdjust="spacingAndGlyphs">SUPPORT ( SEE STRUCT. INFO.)</text>
<text class="tg" x="1236.3" y="1077" textLength="141" lengthAdjust="spacingAndGlyphs">4'-0" WALLS INSTALLED ONLY</text>
<text class="tg" x="1236.8" y="1087.5" textLength="135" lengthAdjust="spacingAndGlyphs">IF NEEDED FOR STRUCTURAL</text>
<text class="tg" x="1236.3" y="1098" textLength="142" lengthAdjust="spacingAndGlyphs">SUPPORT ( SEE STRUCT. INFO.)</text>
<text class="tm" x="547.5" y="486" style="font-size:20.5px" textLength="106.25" lengthAdjust="spacingAndGlyphs">REC. ROOM</text>
<line class="m" x1="546" y1="488.9" x2="655.25" y2="488.9"/>
<text class="tm" x="790" y="486" style="font-size:20.5px" textLength="121.25" lengthAdjust="spacingAndGlyphs">BEDROOM #3</text>
<line class="m" x1="788.5" y1="488.9" x2="912.75" y2="488.9"/>
<text class="tm" x="697.5" y="781.3" style="font-size:20.5px" textLength="122.5" lengthAdjust="spacingAndGlyphs">BEDROOM #4</text>
<line class="m" x1="696" y1="784" x2="821.5" y2="784"/>
<text class="tm" x="396" y="584.6" style="font-size:13.5px" textLength="39" lengthAdjust="spacingAndGlyphs">UNFIN.</text>
<line class="m" x1="394.5" y1="586.6" x2="436.5" y2="586.6"/>
<text class="tm" x="372.5" y="605" style="font-size:21.5px" textLength="87.5" lengthAdjust="spacingAndGlyphs">STORAGE</text>
<line class="m" x1="371" y1="607.6" x2="461.5" y2="607.6"/>
<text class="tm" x="996.25" y="685.6" style="font-size:13.5px" textLength="37.5" lengthAdjust="spacingAndGlyphs">UNFIN.</text>
<line class="m" x1="994.75" y1="687.2" x2="1035.25" y2="687.2"/>
<text class="tm" x="972.5" y="705" style="font-size:21.5px" textLength="87.5" lengthAdjust="spacingAndGlyphs">STORAGE</text>
<line class="m" x1="971" y1="707.4" x2="1061.5" y2="707.4"/>
<text class="tw" x="383.75" y="622.5" style="font-size:15px" textLength="70" lengthAdjust="spacingAndGlyphs" stroke="#24293b" stroke-width="0.2">383 sq. ft.</text>
<text class="tw" x="370" y="635" style="font-size:10.5px" textLength="96" lengthAdjust="spacingAndGlyphs">(FROM 4'-0" WALLS)</text>
<text class="tw" x="987.5" y="722.5" style="font-size:15px" textLength="61" lengthAdjust="spacingAndGlyphs" stroke="#24293b" stroke-width="0.2">721 sq. ft.</text>
<text class="tw" x="970" y="735" style="font-size:10.5px" textLength="96" lengthAdjust="spacingAndGlyphs">(FROM 4'-0" WALLS)</text>
<rect x="1670.5" y="168" width="245.5" height="174" rx="16" ry="16" fill="none" stroke="#cfcf3a" stroke-width="1.5"/>
<rect x="1678.3" y="175.5" width="230" height="158.7" rx="8" ry="8" fill="none" stroke="#cfcf3a" stroke-width="1.5"/>
<line class="y" x1="1678.3" y1="200.7" x2="1908.3" y2="200.7"/>
<text class="tw" x="1688.3" y="192.2" style="font-size:15px" textLength="167" lengthAdjust="spacingAndGlyphs">SECOND FLOOR NOTES:</text>
<line class="wl" x1="1688.3" y1="194.6" x2="1855.5" y2="194.6"/>
<text class="tw" x="1688" y="212.3" style="font-size:9.6px" textLength="119.5" lengthAdjust="spacingAndGlyphs">1) 9'-0"  CLG. HGT. (TYP.) U.N.O.</text>
<text class="tw" x="1688" y="224.7" style="font-size:9.6px" textLength="158.5" lengthAdjust="spacingAndGlyphs">2) SET WINDOWS @ 7'-4" A.F.F. (TYP.) U.N.O.</text>
<text class="tw" x="1688" y="237.8" style="font-size:9.6px" textLength="193.7" lengthAdjust="spacingAndGlyphs">3) STAIRS: N/A (VERIFY ATTIC ACCESS W/ BLDR.)</text>
<text class="tw" x="1688" y="264.8" style="font-size:9.6px" textLength="164.5" lengthAdjust="spacingAndGlyphs">4) ALL WALLS FIGURED AT 4" WIDTHS FOR</text>
<text class="tw" x="1696.5" y="274.5" style="font-size:9.6px" textLength="156" lengthAdjust="spacingAndGlyphs">FOR STUDS, 9" WIDTHS FOR STUD/BRICK</text>
<text class="tw" x="1696.5" y="284.3" style="font-size:9.6px" textLength="45.5" lengthAdjust="spacingAndGlyphs">(TYP.) U.N.O.</text>
<text class="tw" x="1688" y="297.8" style="font-size:9.6px" textLength="175.7" lengthAdjust="spacingAndGlyphs">5) VERIFY ROUGH OPNG'S.,SPECS. FOR CODE</text>
<text class="tw" x="1697.7" y="307.8" style="font-size:9.6px" textLength="140.3" lengthAdjust="spacingAndGlyphs">REQUIREMENTS WITH WINDOW MANUF.</text>
<text class="tw" x="1688" y="320.3" style="font-size:9.6px" textLength="106.7" lengthAdjust="spacingAndGlyphs">6) SD = SMOKE DETECTOR</text>
<text class="tmb" x="1593.6" y="1325.2" style="font-size:32.5px" textLength="309.8" lengthAdjust="spacingAndGlyphs">SECOND FLOOR PLAN</text>
<line class="m" x1="1591" y1="1329.2" x2="1904" y2="1329.2"/>
<text class="tmt" x="1592.7" y="1341.6" style="font-size:9.6px" textLength="147" lengthAdjust="spacingAndGlyphs">SCALE: --------------1/4" = 1'-0"</text>
</svg>
</body></html>
